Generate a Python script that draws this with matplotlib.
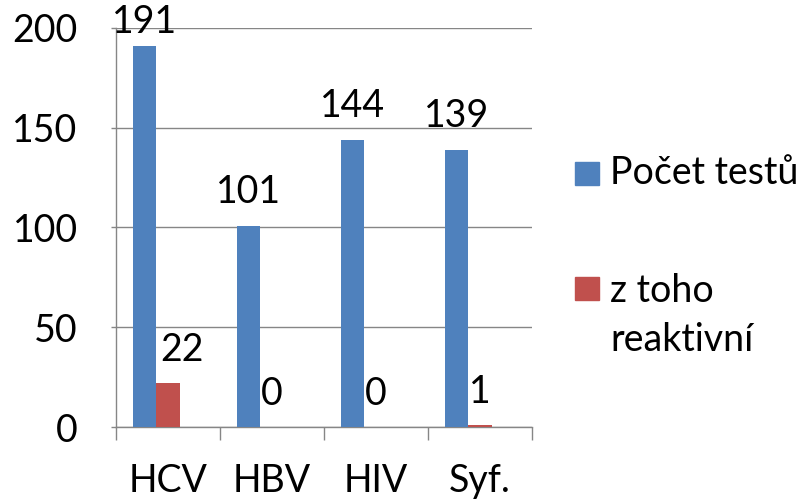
import numpy as np
import matplotlib
matplotlib.use('Agg')
import matplotlib.pyplot as plt
from matplotlib.patches import Rectangle

# data
kategorie = ['HCV', 'HBV', 'HIV', 'Syf.']
pocet_testu = [191, 101, 144, 139]
reaktivni = [22, 0, 0, 1]
nazvy_serii = ['Počet testů', 'z toho\nreaktivní']
barvy = ['#4F81BD', '#C0504D']

plt.rcParams['font.family'] = ['Lato', 'DejaVu Sans']
plt.rcParams['font.size'] = 27

W, H = 807, 500
fig = plt.figure(figsize=(W / 100, H / 100), dpi=100)
ax = fig.add_axes([116 / W, 1 - 427 / H, (532 - 116) / W, (427 - 28) / H])

x = np.arange(len(kategorie))
w = 0.222
b1 = ax.bar(x - w, pocet_testu, width=w, color=barvy[0], zorder=3)
b2 = ax.bar(x, reaktivni, width=w, color=barvy[1], zorder=3)

# popisky hodnot
for rect, v in zip(b1, pocet_testu):
    off = 16 if v < 185 else 9
    ax.annotate(str(v), (rect.get_x() + rect.get_width() / 2, v),
                xytext=(0, off), textcoords='offset points',
                ha='center', va='baseline', annotation_clip=False)
for i, (rect, v) in enumerate(zip(b2, reaktivni)):
    dx = 10 if v > 10 else 0
    ax.annotate(str(v), (rect.get_x() + rect.get_width() / 2, v),
                xytext=(dx, 16), textcoords='offset points',
                ha='center', va='baseline', annotation_clip=False)

ax.set_xlim(-0.5, 3.5)
ax.set_ylim(0, 200)
ax.set_yticks([0, 50, 100, 150, 200])
ax.yaxis.grid(True, color='#868686', linewidth=1, zorder=0)
ax.set_axisbelow(True)

ax.set_xticks(x)
ax.set_xticklabels(kategorie)
ax.set_xticks(np.arange(-0.5, 4, 1), minor=True)
ax.tick_params(axis='x', which='major', length=0, pad=26)
ax.tick_params(axis='x', which='minor', length=9.4, width=1, color='#868686')
ax.tick_params(axis='y', length=3.6, width=1, color='#868686', pad=24)

for s in ['top', 'right']:
    ax.spines[s].set_visible(False)
for s in ['left', 'bottom']:
    ax.spines[s].set_color('#868686')
    ax.spines[s].set_linewidth(1)

# legenda
leg_y = [173, 288]
for (yc, nazev, c) in zip(leg_y, nazvy_serii, barvy):
    fig.add_artist(Rectangle((575 / W, 1 - (yc + 12) / H), 24 / W, 23 / H,
                             transform=fig.transFigure, color=c))
    n = nazev.count('\n')
    fig.text(610 / W, 1 - (yc + n * 27.5) / H, nazev, ha='left', va='center',
             linespacing=1.45)

fig.savefig('out.png', dpi=100)
